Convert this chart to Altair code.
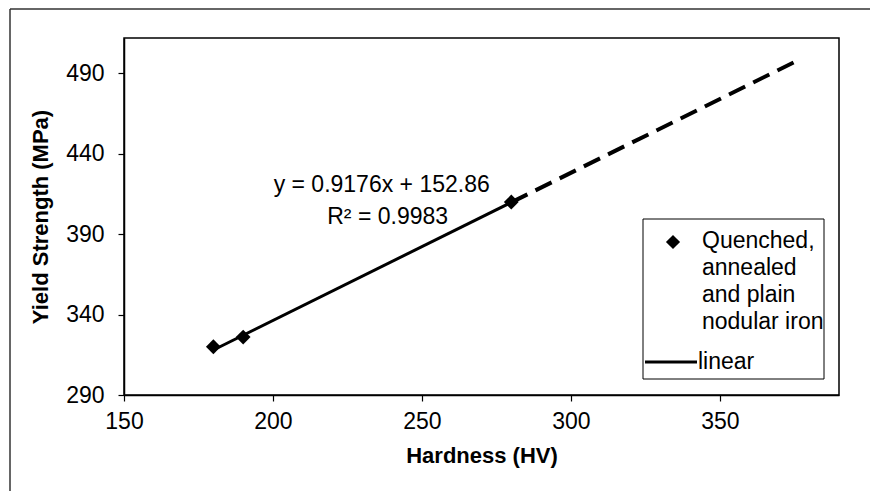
import altair as alt
import pandas as pd

# ---- data ----
hardness = [180, 190, 280]
yield_strength = [320, 326, 410]

trend_x = [180, 280]
trend_y = [318.0, 409.8]
extrap_x = [280, 375]
extrap_y = [409.8, 497.0]

x_ticks = [150, 200, 250, 300, 350]
y_ticks = [290, 340, 390, 440, 490]

eq_line1 = "y = 0.9176x + 152.86"
eq_line2 = "R² = 0.9983"
legend_series = "Quenched,\nannealed\nand plain\nnodular iron"
legend_trend = "linear"

FONT = "Liberation Sans"
W, H = 715, 357
FS = 23

pts = pd.DataFrame({"x": hardness, "y": yield_strength})
trend = pd.DataFrame({"x": trend_x, "y": trend_y})
extrap = pd.DataFrame({"x": extrap_x, "y": extrap_y})

xs = alt.Scale(domain=[150, 390], nice=False, zero=False)
ys = alt.Scale(domain=[290, 512], nice=False, zero=False)

xenc = alt.X("x:Q", scale=xs, axis=alt.Axis(
    values=x_ticks, title="Hardness (HV)", grid=False, labelFlush=False,
    labelFontSize=FS, labelFont=FONT, labelColor="black", labelPadding=9,
    titleFontSize=22, titleFont=FONT, titleFontWeight="bold", titleColor="black",
    titlePadding=12,
    domainColor="black", domainWidth=1.5, tickColor="black", tickSize=6, tickWidth=1.2))
yenc = alt.Y("y:Q", scale=ys, axis=alt.Axis(
    values=y_ticks, title="Yield Strength (MPa)", grid=False, labelFlush=False,
    labelFontSize=FS, labelFont=FONT, labelColor="black", labelPadding=14,
    titleFontSize=22, titleFont=FONT, titleFontWeight="bold", titleColor="black",
    titleX=-84, titleY=H / 2, titleAngle=-90, titleBaseline="middle", titleAlign="center",
    domainColor="black", domainWidth=1.5, tickColor="black", tickSize=6, tickWidth=1.2))

line_solid = alt.Chart(trend).mark_line(color="black", strokeWidth=3).encode(x=xenc, y=yenc)
line_dash = alt.Chart(extrap).mark_line(color="black", strokeWidth=4, strokeDash=[18, 9]).encode(
    x=alt.X("x:Q", scale=xs), y=alt.Y("y:Q", scale=ys))
points = alt.Chart(pts).mark_point(shape="diamond", filled=True, color="black", size=220, opacity=1).encode(
    x=alt.X("x:Q", scale=xs), y=alt.Y("y:Q", scale=ys))

eq = pd.DataFrame({"x": [236.5, 238.5], "y": [420.5, 400.5], "t": [eq_line1, eq_line2]})
eq_text = alt.Chart(eq).mark_text(font=FONT, fontSize=FS, color="black", align="center", baseline="middle").encode(
    x=alt.X("x:Q", scale=xs), y=alt.Y("y:Q", scale=ys), text="t:N")

one = pd.DataFrame({"a": [0]})
leg_box = alt.Chart(one).mark_rect(fill="white", stroke="black", strokeWidth=1).encode(
    x=alt.value(519), x2=alt.value(700), y=alt.value(181), y2=alt.value(341))
leg_diamond = alt.Chart(one).mark_point(shape="diamond", filled=True, color="black", size=200, opacity=1).encode(
    x=alt.value(549), y=alt.value(204))
leg_text = alt.Chart(one).mark_text(font=FONT, fontSize=FS, color="black", align="left", baseline="top",
                                    lineBreak="\n", lineHeight=27).encode(
    x=alt.value(578), y=alt.value(192), text=alt.value(legend_series))
leg_line = alt.Chart(one).mark_rule(color="black", strokeWidth=3).encode(
    x=alt.value(521), x2=alt.value(573), y=alt.value(324))
leg_text2 = alt.Chart(one).mark_text(font=FONT, fontSize=FS, color="black", align="left", baseline="middle").encode(
    x=alt.value(574), y=alt.value(324), text=alt.value(legend_trend))

frame_left = alt.Chart(one).mark_rule(color="#333333", strokeWidth=1.5, clip=False).encode(
    x=alt.value(-114), y=alt.value(-29), y2=alt.value(460))
frame_top = alt.Chart(one).mark_rule(color="#333333", strokeWidth=1.5, clip=False).encode(
    x=alt.value(-114), x2=alt.value(760), y=alt.value(-29))

chart = alt.layer(
    frame_left, frame_top, line_solid, line_dash, points, eq_text,
    leg_box, leg_diamond, leg_text, leg_line, leg_text2
).properties(
    width=W, height=H,
    autosize=alt.AutoSizeParams(type="none"),
    padding={"left": 124, "top": 38, "right": 31, "bottom": 96},
    background="white",
).configure_view(stroke="black", strokeWidth=1.5)

chart.save("out.html", embed_options={"renderer": "svg", "actions": False})
